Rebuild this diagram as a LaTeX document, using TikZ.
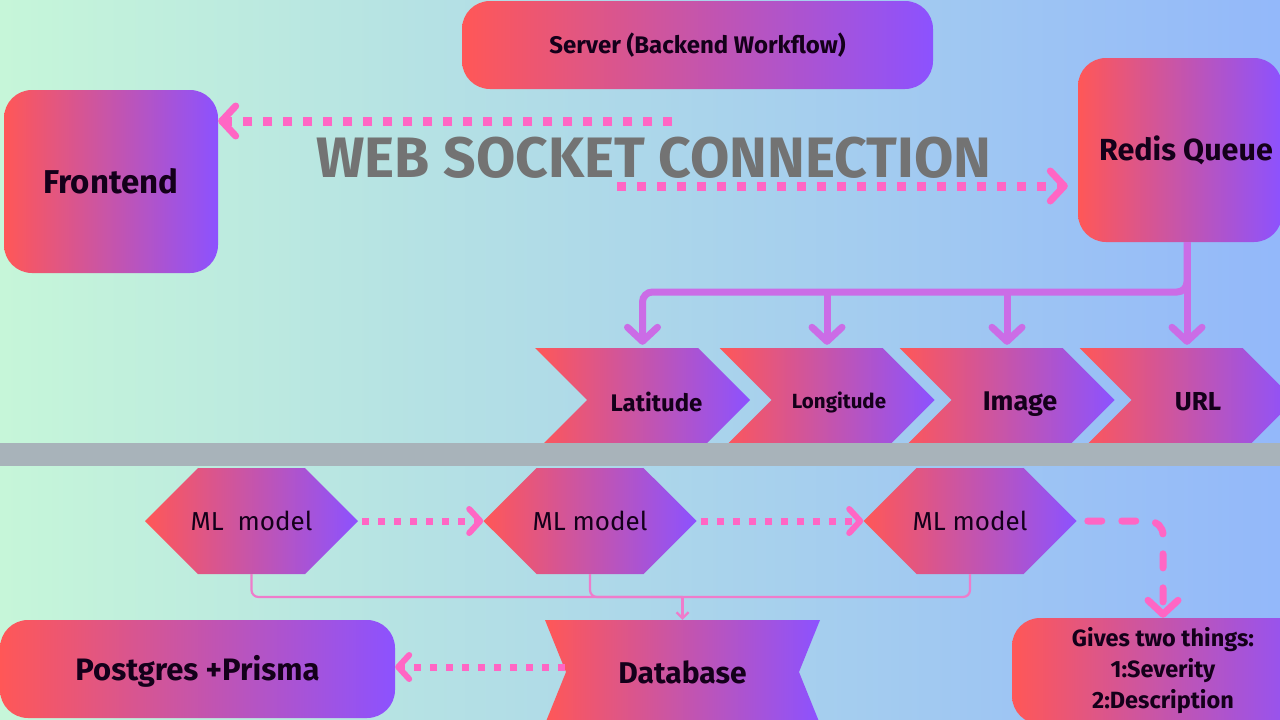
\documentclass[tikz,border=0pt]{standalone}
\usepackage{fontspec}
\setmainfont{Fira Sans}
\usetikzlibrary{shapes.symbols,arrows.meta,calc}
\definecolor{bgL}{HTML}{C6F6D9}
\definecolor{bgR}{HTML}{93B8FA}
\definecolor{gL}{HTML}{FF5757}
\definecolor{gR}{HTML}{8C52FF}
\definecolor{pinkc}{HTML}{FF66C4}
\definecolor{violetc}{HTML}{CB6CE6}
\definecolor{thinc}{HTML}{EE7CCB}
\definecolor{wsgray}{HTML}{737373}
\definecolor{barc}{HTML}{A8B3BA}
\definecolor{txtc}{HTML}{14001A}
\begin{document}
\begin{tikzpicture}[x=1pt,y=-1pt,
 grad/.style={left color=gL,right color=gR,draw=none,inner sep=0pt,text=txtc},
 rbox/.style={grad,rectangle,rounded corners=28pt},
 chev/.style={grad,signal,signal from=west,signal to=east,signal pointer angle=90,minimum width=215pt,minimum height=104pt},
 hexa/.style={grad,signal,signal from=nowhere,signal to=east and west,signal pointer angle=90,minimum width=213pt,minimum height=106pt,font=\fontsize{26}{30}\selectfont},
 dotline/.style={pinkc,line width=9pt,dash pattern=on 9pt off 11pt,-{Straight Barb[length=14pt,width=30pt,line width=7pt,round]}},
 dotsmall/.style={pinkc,line width=7pt,dash pattern=on 7pt off 9pt,-{Straight Barb[length=11pt,width=24pt,line width=6pt,round]}},
 dashline/.style={pinkc,line width=7pt,line cap=round,dash pattern=on 14pt off 20pt,rounded corners=14pt,-{Straight Barb[length=14pt,width=30pt,line width=7pt,round]}},
 tree/.style={violetc,line width=7pt,-{Straight Barb[length=14pt,width=30pt,line width=7pt,round]}},
 thinline/.style={thinc,line width=2.2pt,rounded corners=7pt},
]
\useasboundingbox (0,0) rectangle (1280,720);
\fill[left color=bgL,right color=bgR] (0,0) rectangle (1280,720);

% top boxes
\node[rbox,minimum width=471pt,minimum height=88pt,font=\bfseries\fontsize{24}{28}\selectfont] (server) at (697.5,45) {Server (Backend Workflow)};
\node[rbox,minimum width=214pt,minimum height=183pt,font=\bfseries\fontsize{33}{36}\selectfont] (front) at (111,181.5) {Frontend};
\node[rbox,minimum width=204pt,minimum height=184pt,font=\bfseries\fontsize{30.5}{34}\selectfont] (redis) at (1180,150) {\hspace*{12pt}Redis Queue};
\node[font=\bfseries\fontsize{57}{60}\selectfont,text=wsgray,inner sep=0pt] (ws) at (654,158) {WEB SOCKET CONNECTION};

% chevrons
\node[chev,font=\bfseries\fontsize{24}{28}\selectfont] (lat) at (642.5,400) {\makebox[0pt]{\hspace*{28pt}\raisebox{-2pt}[\height][\depth]{Latitude}}};
\node[chev,font=\bfseries\fontsize{20.5}{24}\selectfont] (lon) at (827,400) {\makebox[0pt]{\hspace*{24pt}\raisebox{-2pt}[\height][\depth]{Longitude}}};
\node[chev,font=\bfseries\fontsize{27}{30}\selectfont] (img) at (1007,400) {\makebox[0pt]{\hspace*{26pt}\raisebox{-4pt}[\height][\depth]{Image}}};
\node[chev,font=\bfseries\fontsize{26}{30}\selectfont] (url) at (1187,400) {\makebox[0pt]{\hspace*{22pt}\raisebox{-2pt}[\height][\depth]{URL}}};

% separator bar
\fill[barc] (0,443) rectangle (1280,466);

% bottom shapes
\node[hexa] (h1) at (251.5,521) {\makebox[0pt]{ML\ \ model}};
\node[hexa] (h2) at (590,521) {\makebox[0pt]{ML model}};
\node[hexa] (h3) at (970,521) {\makebox[0pt]{ML model}};
\node[grad,signal,signal from=west and east,signal to=nowhere,signal pointer angle=136,minimum width=275pt,minimum height=104pt,font=\bfseries\fontsize{30}{34}\selectfont] (db) at (682.5,672) {\makebox[0pt]{Database}};
\node[rbox,minimum width=395pt,minimum height=98pt,font=\bfseries\fontsize{31}{34}\selectfont] (pg) at (197.5,669) {\raisebox{-2pt}[\height][\depth]{Postgres +Prisma}};
\node[rbox,minimum width=302pt,minimum height=106pt,align=center,font=\bfseries\fontsize{23.5}{31}\selectfont] (gives) at (1163,671) {Gives two things:\\1:Severity\\2:Description};

% web socket arrows
\coordinate (ws1) at (672,121);
\coordinate (ws2) at (617,186);
\draw[dotline] (ws1) -- (ws1 -| front.east);
\draw[dotline,shorten >=10pt] (ws2) -- (ws2 -| redis.west);

% redis tree
\coordinate (hy) at (0,292);
\draw[tree,rounded corners=10pt,shorten >=3pt] (redis.south -| url.north) |- (hy -| lat.north) -- (lat.north);
\draw[tree,shorten >=3pt] (redis.south -| url.north) -- (url.north);
\draw[tree,shorten >=3pt] (hy -| lon.north) -- (lon.north);
\draw[tree,shorten >=3pt] (hy -| img.north) -- (img.north);

% ML chain
\draw[dotsmall] ([xshift=4pt]h1.east) -- (h2.west);
\draw[dotsmall] ([xshift=4pt]h2.east) -- (h3.west);
\draw[dashline] ([xshift=11pt]h3.east) -| (gives.north);

% to database
\coordinate (jy) at (0,597);
\draw[thinline] (h1.south) |- (jy -| db.north);
\draw[thinline] (h2.south) |- (jy -| db.north);
\draw[thinline] (h3.south) |- (jy -| db.north);
\draw[thinc,line width=2.2pt,-{Straight Barb[length=6pt,width=12pt,line width=2.2pt]}] (jy -| db.north) -- (db.north);

% database to postgres
\coordinate (dbn) at ($(db.center)+(-118,-5)$);
\draw[dotsmall] (dbn) -- (dbn -| pg.east);
\end{tikzpicture}
\end{document}
